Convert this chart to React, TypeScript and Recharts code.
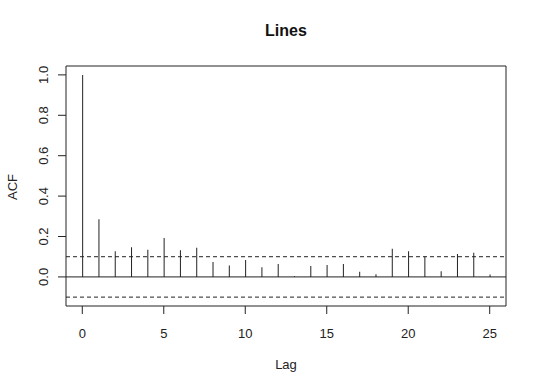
import React from "react";
import {
  ComposedChart,
  Bar,
  XAxis,
  YAxis,
  ReferenceLine,
  ReferenceArea,
} from "recharts";

const lags = [0, 1, 2, 3, 4, 5, 6, 7, 8, 9, 10, 11, 12, 13, 14, 15, 16, 17, 18, 19, 20, 21, 22, 23, 24, 25];
const acfValues = [
  1.0, 0.286, 0.127, 0.147, 0.135, 0.193, 0.132, 0.144, 0.074, 0.056, 0.084, 0.048, 0.064,
  0.003, 0.054, 0.059, 0.064, 0.026, 0.013, 0.139, 0.127, 0.101, 0.028, 0.114, 0.12, 0.012,
];
const xTicks = [0, 5, 10, 15, 20, 25];
const yTicks = [0, 0.2, 0.4, 0.6, 0.8, 1.0];
const ciBound = 0.1;

const data = lags.map((lag, i) => ({ lag, acf: acfValues[i] }));

const INK = "#222";
const FONT = "'Liberation Sans', Arial, sans-serif";

function YTick(props: any) {
  const { y, payload } = props;
  return (
    <text
      x={44}
      y={y}
      transform={`rotate(-90, 44, ${y})`}
      textAnchor="middle"
      dominantBaseline="central"
      fontSize={13}
      fontFamily={FONT}
      fill={INK}
    >
      {Number(payload.value).toFixed(1)}
    </text>
  );
}

export default function App() {
  return (
    <div style={{ position: "absolute", left: 0, top: 0, width: 540, height: 389, background: "#fff" }}>
      <svg width={540} height={389} style={{ position: "absolute", left: 0, top: 0, pointerEvents: "none" }}>
        <text x={286} y={30} textAnchor="middle" dominantBaseline="central" fontSize={16} fontWeight="bold" fontFamily={FONT} fill="#111">
          Lines
        </text>
        <text x={286} y={364} textAnchor="middle" dominantBaseline="central" fontSize={13} fontFamily={FONT} fill={INK}>
          Lag
        </text>
        <text
          x={12}
          y={187}
          transform="rotate(-90, 12, 187)"
          textAnchor="middle"
          dominantBaseline="central"
          fontSize={13}
          fontFamily={FONT}
          fill={INK}
        >
          ACF
        </text>
      </svg>
      <ComposedChart
        width={540}
        height={389}
        data={data}
        margin={{ top: 66, right: 34, bottom: 0, left: 0 }}
        style={{ position: "absolute", left: 0, top: 0 }}
      >
        <XAxis
          dataKey="lag"
          type="number"
          domain={[-1, 26]}
          ticks={xTicks}
          allowDataOverflow
          axisLine={false}
          tickSize={8}
          tickMargin={15}
          tickLine={{ stroke: INK }}
          tick={{ fill: INK, fontSize: 13, fontFamily: FONT }}
          height={83}
        />
        <YAxis
          type="number"
          domain={[-0.144, 1.044]}
          ticks={yTicks}
          allowDataOverflow
          axisLine={false}
          tickSize={8}
          tickLine={{ stroke: INK }}
          tick={<YTick />}
          width={66}
        />
        <ReferenceArea
          x1={-1}
          x2={26}
          y1={-0.144}
          y2={1.044}
          fill="none"
          fillOpacity={0}
          stroke={INK}
          strokeWidth={1}
          ifOverflow="visible"
        />
        <ReferenceLine y={0} stroke={INK} strokeWidth={1} />
        <ReferenceLine y={ciBound} stroke={INK} strokeDasharray="4 3" />
        <ReferenceLine y={-ciBound} stroke={INK} strokeDasharray="4 3" />
        <Bar dataKey="acf" barSize={1} fill={INK} isAnimationActive={false} />
      </ComposedChart>
    </div>
  );
}
